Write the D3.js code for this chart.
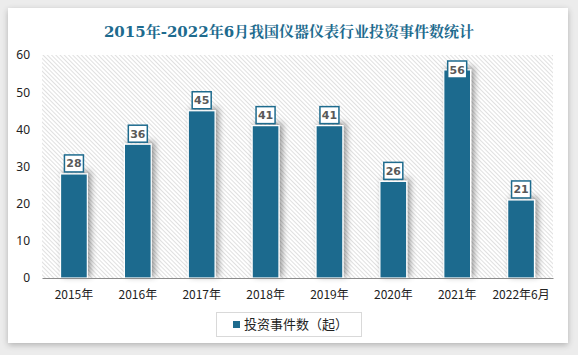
<!DOCTYPE html>
<html><head><meta charset="utf-8">
<script src="https://cdn.jsdelivr.net/npm/d3@7"></script>
<style>
html,body{margin:0;padding:0;background:#ececec;}
svg{display:block;}
</style></head>
<body>
<script>
const categories = ["2015年","2016年","2017年","2018年","2019年","2020年","2021年","2022年6月"];
const values = [28,36,45,41,41,26,56,21];
const yTicks = [0,10,20,30,40,50,60];
const titleText = "2015年-2022年6月我国仪器仪表行业投资事件数统计";
const seriesName = "投资事件数（起）";

const W = 578, H = 355;
const barColor = "#1e6b8e";
const svg = d3.select("body").append("svg").attr("width", W).attr("height", H);
const defs = svg.append("defs");

const cardShadow = defs.append("filter").attr("id","cardShadow").attr("x","-5%").attr("y","-5%").attr("width","110%").attr("height","115%");
cardShadow.append("feGaussianBlur").attr("in","SourceAlpha").attr("stdDeviation",3);
cardShadow.append("feOffset").attr("dx",0).attr("dy",2).attr("result","b");
cardShadow.append("feComponentTransfer").append("feFuncA").attr("type","linear").attr("slope",0.25);
const cm = cardShadow.append("feMerge"); cm.append("feMergeNode"); cm.append("feMergeNode").attr("in","SourceGraphic");

const barShadow = defs.append("filter").attr("id","barShadow").attr("x","-40%").attr("y","-20%").attr("width","180%").attr("height","140%");
barShadow.append("feGaussianBlur").attr("in","SourceAlpha").attr("stdDeviation",3);
barShadow.append("feOffset").attr("dx",3).attr("dy",-2).attr("result","b");
barShadow.append("feComponentTransfer").append("feFuncA").attr("type","linear").attr("slope",0.4);
const bm = barShadow.append("feMerge"); bm.append("feMergeNode"); bm.append("feMergeNode").attr("in","SourceGraphic");

const pat = defs.append("pattern").attr("id","hatch").attr("patternUnits","userSpaceOnUse")
  .attr("width",3).attr("height",3).attr("patternTransform","rotate(-45)");
pat.append("rect").attr("width",3).attr("height",3).attr("fill","#ffffff");
pat.append("line").attr("x1",0.5).attr("y1",0).attr("x2",0.5).attr("y2",3).attr("stroke","#e0e0e0").attr("stroke-width",1);

// card
svg.append("rect").attr("x",8).attr("y",8).attr("width",560).attr("height",335).attr("fill","#fff").attr("filter","url(#cardShadow)");

// title
svg.append("text").attr("x",289).attr("y",37).attr("text-anchor","middle")
  .attr("font-family","'DejaVu Serif','Noto Serif CJK SC','Noto Sans CJK SC',serif")
  .attr("font-weight","bold").attr("font-size",15).attr("fill","#1e6b8e").text(titleText);

const m = {left:42, right:553, top:55, bottom:278};
const x = d3.scaleBand().domain(categories).range([m.left, m.right]).paddingInner(0.58).paddingOuter(0.29);
const y = d3.scaleLinear().domain([0,60]).range([m.bottom, m.top]);

svg.append("rect").attr("x",m.left).attr("y",m.top).attr("width",m.right-m.left).attr("height",m.bottom-m.top).attr("fill","url(#hatch)");

// y axis labels
const yAxis = d3.axisLeft(y).tickValues(yTicks).tickSize(0).tickPadding(0);
const yg = svg.append("g").attr("transform",`translate(30,0)`).call(yAxis);
yg.select(".domain").remove();
yg.selectAll("text").attr("font-family","'Noto Sans','DejaVu Sans',sans-serif").attr("font-size",12).attr("fill","#222");

// bars
svg.append("g").selectAll("rect").data(values).join("rect")
  .attr("x",(d,i)=>x(categories[i])).attr("width",x.bandwidth())
  .attr("y",d=>y(d)).attr("height",d=>m.bottom-y(d))
  .attr("fill",barColor).attr("stroke","#fff").attr("stroke-width",1.2)
  .attr("filter","url(#barShadow)");

// x axis
const xAxis = d3.axisBottom(x).tickSize(0).tickPadding(12);
const xg = svg.append("g").attr("transform",`translate(0,${m.bottom})`).call(xAxis);
xg.select(".domain").attr("stroke","#8c8c8c").attr("stroke-width",1.2);
xg.selectAll("text").attr("font-family","'Noto Sans CJK SC',sans-serif").attr("font-size",12).attr("fill","#222");

// labels
const bw = 19, bh = 17;
const lg = svg.append("g").selectAll("g").data(values).join("g")
  .attr("transform",(d,i)=>{
    const cx = x(categories[i]) + x.bandwidth()/2;
    let top = y(d) - 2 - bh;
    if (top < m.top + 6) top = m.top + 6;
    return `translate(${cx},${top})`;
  });
lg.append("rect").attr("x",-bw/2).attr("y",0).attr("width",bw).attr("height",bh)
  .attr("fill","#fff").attr("stroke",barColor).attr("stroke-width",1.5);
lg.append("text").attr("x",0).attr("y",bh/2+4).attr("text-anchor","middle")
  .attr("font-family","'DejaVu Sans',sans-serif").attr("font-weight","bold").attr("font-size",11)
  .attr("fill","#595959").text(d=>d);

// legend
svg.append("rect").attr("x",216.5).attr("y",312.5).attr("width",145).attr("height",24)
  .attr("fill","#fff").attr("stroke","#d9d9d9").attr("stroke-width",1);
svg.append("rect").attr("x",233).attr("y",321).attr("width",7).attr("height",7).attr("fill",barColor);
svg.append("text").attr("x",244).attr("y",329).attr("font-family","'Noto Sans CJK SC',sans-serif")
  .attr("font-size",13).attr("fill","#222").text(seriesName);
</script>
</body></html>
